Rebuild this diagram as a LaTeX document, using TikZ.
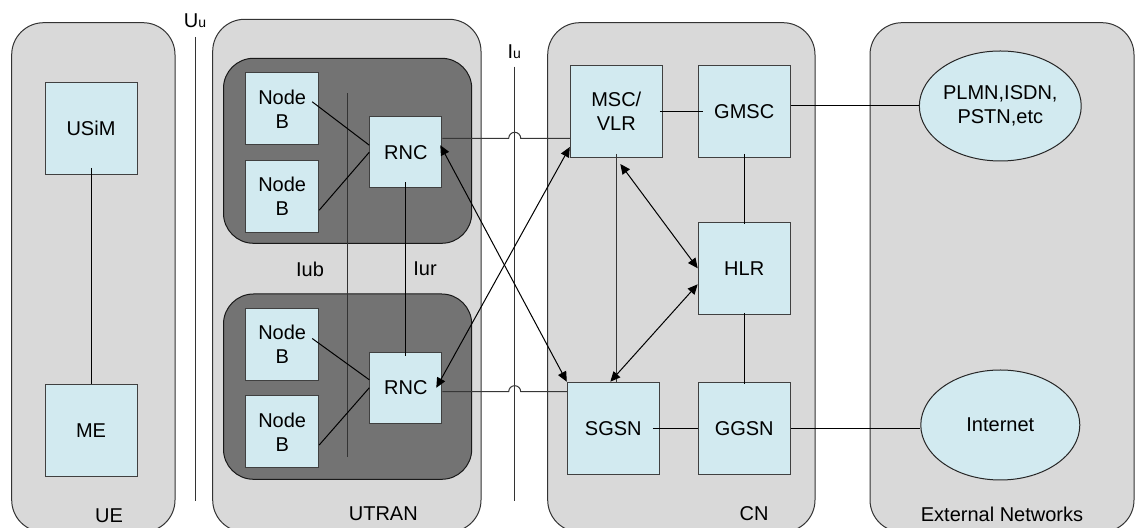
\documentclass[tikz,border=0pt]{standalone}
\usepackage{fontspec}
\setmainfont{Liberation Sans}
\usetikzlibrary{shapes.geometric, arrows.meta}

\definecolor{areagray}{RGB}{217,217,217}
\definecolor{subgray}{RGB}{115,115,115}
\definecolor{elemblue}{RGB}{210,234,240}
\definecolor{linegray}{RGB}{55,55,55}

\tikzset{
  area/.style={draw=black!80, fill=areagray, rounded corners=16pt},
  subnet/.style={draw=black!90, fill=subgray, rounded corners=15pt},
  elem/.style={draw=black!75, fill=elemblue, minimum width=46pt, minimum height=46pt, inner sep=0pt, align=center},
  extnet/.style={ellipse, draw=black!85, fill=elemblue, minimum width=79.5pt, minimum height=55pt, inner sep=0pt, align=center},
  iface/.style={draw=black!80},
  dlink/.style={{Triangle[length=5pt,width=4.5pt]}-{Triangle[length=5pt,width=4.5pt]}},
}

\begin{document}
\begin{tikzpicture}[x=0.5pt, y=-0.5pt, line width=0.5pt, font=\fontsize{10}{12}\selectfont]
    \useasboundingbox (0,0) rectangle (1136,528);
    \clip (0,0) rectangle (1136,528);

    % Domains
    \draw[area] (11.7,22.7) rectangle (175,532);
    \draw[area] (212.7,19.3) rectangle (481,532);
    \draw[area] (547.7,22.7) rectangle (815,532);
    \draw[area] (870,22.7) rectangle (1134,532);
    \node (uelbl) at (109,516) {UE};
    \node (utranlbl) at (383.3,513.3) {UTRAN};
    \node (cnlbl) at (754,513.3) {CN};
    \node (extlbl) at (1002,514.7) {External Networks};

    % Two RNS blocks inside UTRAN
    \draw[subnet] (223.5,58.3) rectangle (471.7,243.3);
    \draw[subnet] (223.5,294) rectangle (471.7,479.3);

    % Interfaces Uu, Iu, Iub
    \coordinate (uutop) at (195,37);
    \coordinate (uubot) at (195,501);
    \coordinate (iutop) at (514.7,66.7);
    \coordinate (iubot) at (514.7,501);
    \coordinate (iubtop) at (347,93.3);
    \coordinate (iubbot) at (347,457.3);
    \draw[iface] (uutop) -- (uubot);
    \draw[iface] (iutop) -- (iubot);
    \draw[iface] (iubtop) -- (iubbot);
    \node (uulbl) at (195,21) {U{\fontsize{7}{8}\selectfont u}};
    \node (iulbl) at (514.3,51.7) {I{\fontsize{7}{8}\selectfont u}};
    \node (iublbl) at (310,269) {Iub};
    \node (iurlbl) at (425,269) {Iur};

    % UE
    \node[elem] (usim) at (91,128.3) {USiM};
    \node[elem] (me) at (91,430.5) {ME};

    % UTRAN
    \foreach \n/\y in {1/108.8, 2/196.2, 3/344.5, 4/432}
        \node[elem, minimum width=36.5pt, minimum height=36pt] (nb\n) at (282.2,\y) {Node\\B};
    \node[elem, minimum width=36pt, minimum height=35.5pt] (rnc1) at (405.8,152.2) {RNC};
    \node[elem, minimum width=36pt, minimum height=35.5pt] (rnc2) at (405.8,387.8) {RNC};

    % CN
    \node[elem] (msc) at (616.3,111.5) {MSC/\\VLR};
    \node[elem] (gmsc) at (744.2,111.5) {GMSC};
    \node[elem] (hlr) at (744.2,268.3) {HLR};
    \node[elem] (sgsn) at (613.3,428.2) {SGSN};
    \node[elem] (ggsn) at (744.2,428.2) {GGSN};

    % External networks
    \node[extnet] (plmn) at (1000.3,106) {PLMN,ISDN,\\PSTN,etc};
    \node[extnet] (inet) at (1000.3,425) {Internet};

    % Links inside UE and UTRAN
    \draw ([yshift=3.5pt]usim.south) -- (me.north);
    \draw ([xshift=-3.5pt,yshift=3.5pt]nb1.east) -- ([yshift=3.5pt]rnc1.west);
    \draw ([yshift=-7pt]nb2.east) -- (rnc1.west);
    \draw ([xshift=-3.5pt,yshift=3pt]nb3.east) -- ([yshift=4pt]rnc2.west);
    \draw ([yshift=-6.5pt]nb4.east) -- (rnc2.west);
    \draw ([yshift=3pt]rnc1.south) -- ([yshift=-2pt]rnc2.north);

    % Iu links, hopping over the Iu line
    \coordinate (hopa) at (514.7,138.3);
    \coordinate (hopb) at (514.7,391.7);
    \draw[linegray] (rnc1.east |- hopa) -- ([xshift=-3pt]hopa) arc (180:360:6) -- (msc.west |- hopa);
    \draw[linegray] (rnc2.east |- hopb) -- ([xshift=-3pt]hopb) arc (180:360:6) -- (sgsn.west |- hopb);
    \draw[dlink] ([xshift=-1pt,yshift=3.5pt]rnc1.east) -- (sgsn.north west);
    \draw[dlink] ([xshift=-3pt]rnc2.east) -- ([yshift=5.5pt]msc.south west);

    % Links inside CN
    \draw[linegray] ([yshift=2pt]msc.south) -- (msc.south |- sgsn.north);
    \draw[dlink] ([xshift=2pt,yshift=-3pt]msc.south) -- (hlr.west);
    \draw[dlink] ([xshift=-1.5pt]sgsn.north) -- ([yshift=-8pt]hlr.west);
    \draw ([xshift=-1.5pt]msc.east) -- ([xshift=2.5pt]gmsc.west);
    \draw ([yshift=2pt]gmsc.south) -- ([yshift=-1pt]hlr.north);
    \draw ([yshift=1pt]hlr.south) -- ([yshift=-1pt]ggsn.north);
    \draw ([xshift=-3.5pt]sgsn.east) -- (ggsn.west);

    % Links to external networks
    \draw (plmn.west -| gmsc.east) -- (plmn.west);
    \draw (ggsn.east) -- (ggsn.east -| inet.west);
\end{tikzpicture}
\end{document}
